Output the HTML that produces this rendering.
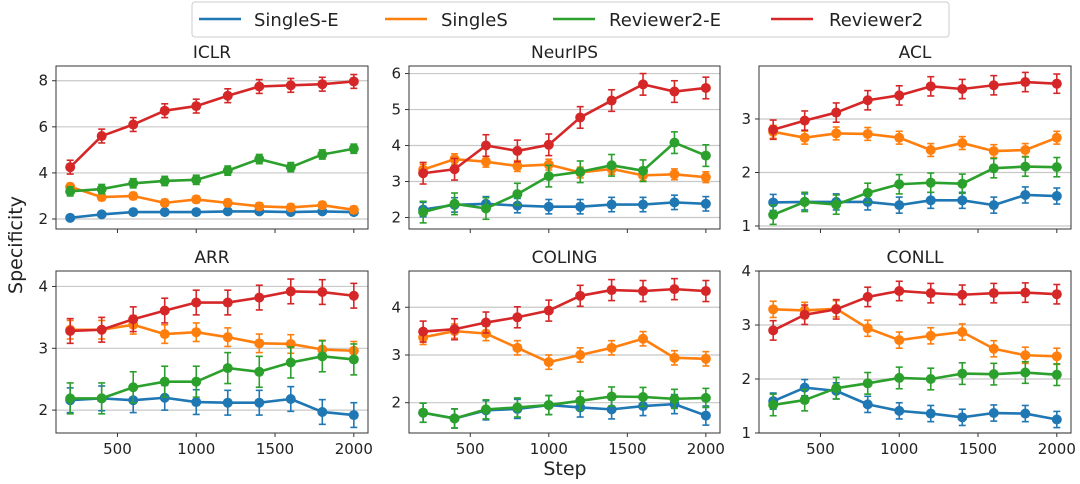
<!DOCTYPE html>
<html><head><meta charset="utf-8">
<style>
html,body{margin:0;padding:0;background:#fff;}
svg{display:block;font-family:"DejaVu Sans","Liberation Sans",sans-serif;}
</style></head>
<body>
<svg id="chart" width="1080" height="484" viewBox="0 0 1080 484" xmlns="http://www.w3.org/2000/svg">
  <g>
    <rect x="192" y="2" width="757" height="35" rx="3" fill="#fff" stroke="#ccc" stroke-width="1"/>
    <g><line x1="199" y1="19" x2="241" y2="19" stroke="#1f77b4" stroke-width="2.5"/><text x="254" y="26" font-size="18" fill="#222">SingleS-E</text></g>
    <g><line x1="385" y1="19" x2="427" y2="19" stroke="#ff7f0e" stroke-width="2.5"/><text x="441" y="26" font-size="18" fill="#222">SingleS</text></g>
    <g><line x1="553" y1="19" x2="595" y2="19" stroke="#2ca02c" stroke-width="2.5"/><text x="609" y="26" font-size="18" fill="#222">Reviewer2-E</text></g>
    <g><line x1="771" y1="19" x2="813" y2="19" stroke="#d62728" stroke-width="2.5"/><text x="829" y="26" font-size="18" fill="#222">Reviewer2</text></g>
  </g>
  <text x="0" y="0" transform="translate(22,245) rotate(-90)" text-anchor="middle" font-size="19" fill="#222">Specificity</text>
  <text x="565" y="475" text-anchor="middle" font-size="19" fill="#222">Step</text>
  <g id="panels"></g>
</svg>
<script>
const steps = [200,400,600,800,1000,1200,1400,1600,1800,2000];
const seriesNames = ["SingleS-E","SingleS","Reviewer2-E","Reviewer2"];
const seriesColors = ["#1f77b4","#ff7f0e","#2ca02c","#d62728"];
const panelTitles = ["ICLR","NeurIPS","ACL","ARR","COLING","CONLL"];
const xTicks = [500,1000,1500,2000];

const iclrSinglesE = [2.05,2.2,2.3,2.3,2.3,2.33,2.33,2.3,2.33,2.3];
const iclrSingles = [3.4,2.95,3.0,2.7,2.85,2.7,2.55,2.5,2.6,2.4];
const iclrReviewer2E = [3.2,3.3,3.55,3.65,3.7,4.1,4.6,4.25,4.8,5.05];
const iclrReviewer2 = [4.25,5.6,6.1,6.7,6.9,7.35,7.75,7.8,7.85,7.97];

const neuripsSinglesE = [2.22,2.35,2.38,2.33,2.3,2.3,2.36,2.36,2.42,2.38];
const neuripsSingles = [3.33,3.62,3.55,3.43,3.47,3.25,3.35,3.17,3.2,3.12];
const neuripsReviewer2E = [2.15,2.38,2.25,2.65,3.15,3.27,3.45,3.3,4.08,3.72];
const neuripsReviewer2 = [3.23,3.34,4.0,3.85,4.02,4.78,5.25,5.7,5.5,5.6];

const aclSinglesE = [1.44,1.45,1.45,1.45,1.39,1.48,1.48,1.39,1.58,1.56];
const aclSingles = [2.76,2.65,2.73,2.72,2.65,2.42,2.55,2.4,2.42,2.65];
const aclReviewer2E = [1.21,1.45,1.4,1.62,1.78,1.81,1.79,2.08,2.11,2.1];
const aclReviewer2 = [2.8,2.97,3.12,3.35,3.44,3.61,3.56,3.63,3.69,3.66];

const arrSinglesE = [2.16,2.19,2.16,2.2,2.13,2.12,2.12,2.18,1.97,1.92];
const arrSingles = [3.3,3.3,3.38,3.23,3.26,3.18,3.08,3.07,2.98,2.96];
const arrReviewer2E = [2.19,2.19,2.37,2.46,2.46,2.68,2.62,2.77,2.87,2.82];
const arrReviewer2 = [3.28,3.3,3.47,3.61,3.74,3.74,3.82,3.92,3.91,3.85];

const colingSinglesE = [1.79,1.67,1.84,1.87,1.95,1.9,1.86,1.93,1.97,1.73];
const colingSingles = [3.37,3.5,3.45,3.15,2.85,3.0,3.15,3.34,2.94,2.92];
const colingReviewer2E = [1.79,1.67,1.86,1.9,1.95,2.04,2.13,2.12,2.08,2.1];
const colingReviewer2 = [3.49,3.54,3.68,3.79,3.93,4.24,4.36,4.34,4.38,4.34];

const conllSinglesE = [1.59,1.84,1.78,1.53,1.41,1.36,1.29,1.37,1.36,1.25];
const conllSingles = [3.29,3.27,3.3,2.94,2.72,2.8,2.87,2.56,2.44,2.42];
const conllReviewer2E = [1.52,1.61,1.83,1.92,2.02,2.0,2.1,2.09,2.12,2.08];
const conllReviewer2 = [2.9,3.19,3.29,3.52,3.63,3.59,3.56,3.59,3.6,3.57];

const iclrErr = [0.1,0.15,0.2,0.3];
const neuripsErr = [0.2,0.15,0.3,0.3];
const aclErr = [0.15,0.12,0.18,0.18];
const arrErr = [0.2,0.15,0.25,0.2];
const colingErr = [0.2,0.15,0.2,0.22];
const conllErr = [0.15,0.15,0.2,0.18];

const iclrYTicks = [2,4,6,8];
const neuripsYTicks = [2,3,4,5,6];
const aclYTicks = [1,2,3];
const arrYTicks = [2,3,4];
const colingYTicks = [2,3,4];
const conllYTicks = [1,2,3,4];

const panelSeries = [
  [iclrSinglesE,iclrSingles,iclrReviewer2E,iclrReviewer2],
  [neuripsSinglesE,neuripsSingles,neuripsReviewer2E,neuripsReviewer2],
  [aclSinglesE,aclSingles,aclReviewer2E,aclReviewer2],
  [arrSinglesE,arrSingles,arrReviewer2E,arrReviewer2],
  [colingSinglesE,colingSingles,colingReviewer2E,colingReviewer2],
  [conllSinglesE,conllSingles,conllReviewer2E,conllReviewer2]
];
const panelErrs = [iclrErr,neuripsErr,aclErr,arrErr,colingErr,conllErr];
const panelYTicks = [iclrYTicks,neuripsYTicks,aclYTicks,arrYTicks,colingYTicks,conllYTicks];
const panelYLims = [[1.566,8.64],[1.68,6.21],[0.944,3.99],[1.63,4.25],[1.365,4.76],[1,4]];

const colX = [[56,368],[409,720],[759,1071]];
const rowY = [[66,229],[271,433]];
const NS = "http://www.w3.org/2000/svg";
const root = document.getElementById('panels');

function mk(tag, attrs, parent){
  const e = document.createElementNS(NS, tag);
  for (const k in attrs) e.setAttribute(k, attrs[k]);
  parent.appendChild(e);
  return e;
}

for (let p = 0; p < 6; p++) {
  const [x0,x1] = colX[p%3];
  const [y0,y1] = rowY[Math.floor(p/3)];
  const [ymin,ymax] = panelYLims[p];
  const xs = v => x0 + (v - 110) / (2090 - 110) * (x1 - x0);
  const ys = v => y1 - (v - ymin) / (ymax - ymin) * (y1 - y0);
  const g = mk('g', {}, root);
  
  

  const t = mk('text', {x:(x0+x1)/2, y:y0-8, 'text-anchor':'middle', 'font-size':17, fill:'#222'}, g);
  t.textContent = panelTitles[p];
  
  

  panelYTicks[p].forEach(v => {
    const y = ys(v);
    const gl = mk('line', {x1:x0, x2:x1, y1:y, y2:y, stroke:'#c8c8c8', 'stroke-width':1.2}, g);
    
    
    mk('line', {x1:x0-4, x2:x0, y1:y, y2:y, stroke:'#333', 'stroke-width':1}, g);
    const tl = mk('text', {x:x0-8, y:y+5, 'text-anchor':'end', 'font-size':15, fill:'#222'}, g);
    tl.textContent = v;
    
    
  });
  xTicks.forEach(v => {
    const x = xs(v);
    mk('line', {x1:x, x2:x, y1:y1, y2:y1+4, stroke:'#333', 'stroke-width':1}, g);
    if (p >= 3) {
      const tl = mk('text', {x:x, y:y1+21, 'text-anchor':'middle', 'font-size':15, fill:'#222'}, g);
      tl.textContent = v;
      
      
    }
  });

  for (let s = 0; s < 4; s++) {
    const vals = panelSeries[p][s];
    const err = panelErrs[p][s];
    const col = seriesColors[s];
    const sg = mk('g', {}, g);
    
    
    vals.forEach((v,i) => {
      const x = xs(steps[i]);
      mk('line', {x1:x, x2:x, y1:ys(v-err), y2:ys(v+err), stroke:col, 'stroke-width':1.6}, sg);
      mk('line', {x1:x-3.5, x2:x+3.5, y1:ys(v-err), y2:ys(v-err), stroke:col, 'stroke-width':1.6}, sg);
      mk('line', {x1:x-3.5, x2:x+3.5, y1:ys(v+err), y2:ys(v+err), stroke:col, 'stroke-width':1.6}, sg);
    });
    const pl = mk('polyline', {points: vals.map((v,i)=>xs(steps[i])+','+ys(v)).join(' '), fill:'none', stroke:col, 'stroke-width':2.6, 'stroke-linejoin':'round'}, sg);
    
    
    vals.forEach((v,i) => {
      const c = mk('circle', {cx:xs(steps[i]), cy:ys(v), r:5, fill:col}, sg);
      
      
    });
  }
  const fr = mk('rect', {x:x0, y:y0, width:x1-x0, height:y1-y0, fill:'none', stroke:'#333', 'stroke-width':1}, g);
  
  
}
</script>
</body></html>
